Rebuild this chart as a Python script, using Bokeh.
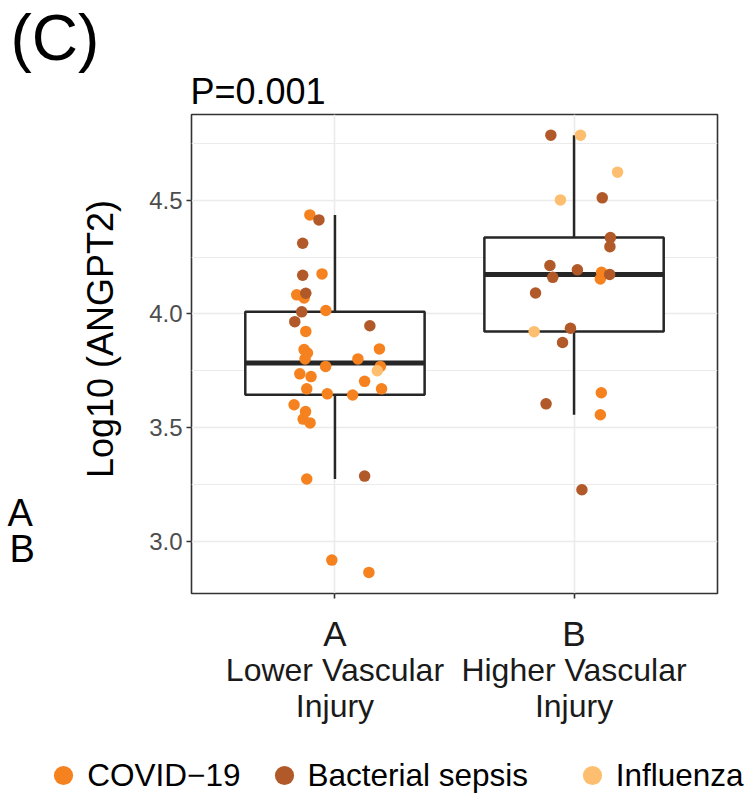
import numpy as np
from bokeh.plotting import figure
from bokeh.layouts import column, row
from bokeh.models import (Range1d, FixedTicker, PrintfTickFormatter, Label,
                          Legend, LegendItem, ColumnDataSource, LinearAxis)
from bokeh.embed import file_html
from bokeh.resources import INLINE

# ---------------- data ----------------
groups = ["A", "B"]
group_line1 = ["Lower Vascular", "Higher Vascular"]
group_line2 = ["Injury", "Injury"]

disease_names = ["COVID\u221219", "Bacterial sepsis", "Influenza"]
disease_colors = ["#F5821F", "#B15928", "#FDBF6F"]

# group A (Lower Vascular Injury): log10 ANGPT2, horizontal jitter, disease index
a_values = [4.436, 4.414, 4.311, 4.170, 4.176, 4.084, 4.091, 4.070, 4.009, 4.015,
            3.966, 3.948, 3.923, 3.843, 3.828, 3.802, 3.846, 3.802, 3.769, 3.769,
            3.750, 3.736, 3.724, 3.703, 3.670, 3.670, 3.648, 3.643, 3.600, 3.570,
            3.537, 3.520, 3.273, 3.286, 2.916, 2.862]
a_jitter = [-0.105, -0.067, -0.135, -0.135, -0.054, -0.160, -0.122, -0.129, -0.139, -0.038,
            -0.168, 0.146, -0.122, -0.129, -0.115, -0.125, 0.186, 0.096, -0.039, 0.190,
            0.177, -0.147, -0.100, 0.124, -0.118, 0.195, -0.032, 0.074, -0.171, -0.123,
            -0.133, -0.104, -0.118, 0.124, -0.013, 0.142]
a_disease = [0, 1, 1, 1, 0, 0, 1, 0, 1, 0,
             1, 1, 0, 0, 0, 0, 0, 0, 0, 0,
             2, 0, 0, 0, 0, 0, 0, 0, 0, 0,
             0, 0, 0, 1, 0, 0]

# group B (Higher Vascular Injury)
b_values = [4.787, 4.787, 4.624, 4.502, 4.511, 4.336, 4.296, 4.213, 4.194, 4.161,
            4.183, 4.154, 4.174, 4.092, 3.922, 3.937, 3.874, 3.653, 3.604, 3.556,
            3.226]
b_jitter = [-0.097, 0.027, 0.182, -0.057, 0.118, 0.152, 0.150, -0.101, 0.014, -0.089,
            0.115, 0.110, 0.149, -0.161, -0.167, -0.015, -0.048, 0.114, -0.117, 0.110,
            0.033]
b_disease = [1, 2, 2, 2, 1, 1, 1, 1, 1, 1,
             0, 0, 1, 1, 2, 1, 1, 0, 1, 0,
             1]

# box-plot statistics per group
box_q1 = [3.644, 3.923]
box_median = [3.784, 4.174]
box_q3 = [4.010, 4.336]
whisker_low = [3.273, 3.556]
whisker_high = [4.436, 4.787]

y_ticks = [3.0, 3.5, 4.0, 4.5]
y_minor = [2.75, 3.25, 3.75, 4.25, 4.75]
y_title = "Log10 (ANGPT2)"
p_title = "P=0.001"
panel_tag = "(C)"

FONT = "Liberation Sans"
INK = "#262626"
TOTAL_W = 745
LEFT_W = 131
TOP_H = 110
MID_H = 623
BOT_H = 63


def blank(width, height):
    f = figure(width=width, height=height, x_range=Range1d(0, 1), y_range=Range1d(0, 1),
               output_backend="svg", toolbar_location=None,
               min_border=0, min_border_left=0, min_border_right=0,
               min_border_top=0, min_border_bottom=0)
    f.axis.visible = False
    f.grid.visible = False
    f.outline_line_color = None
    f.background_fill_color = "white"
    f.border_fill_color = "white"
    return f


def lab(fig, **kw):
    base = dict(text_font=FONT, text_color="#000000", text_baseline="alphabetic",
                x_units="screen", y_units="screen")
    base.update(kw)
    fig.add_layout(Label(**base))


# ---------------- top strip: panel tag and p-value ----------------
top = blank(TOTAL_W, TOP_H)
lab(top, text=panel_tag, x=10, y=73, text_font_size="64px")
lab(top, text=p_title, x=190, y=19.5, text_font_size="36px")

# ---------------- left strip: y title and group key ----------------
left = blank(LEFT_W, MID_H)
lab(left, text=y_title, x=100, y=254.5, angle=np.pi / 2, text_align="center",
    text_font_size="36px")
lab(left, text=groups[0], x=7, y=81, text_font_size="38px")
lab(left, text=groups[1], x=9, y=45, text_font_size="38px")

# ---------------- main panel ----------------
p = figure(width=TOTAL_W - LEFT_W, height=MID_H,
           x_range=Range1d(0.4, 2.6), y_range=Range1d(2.769, 4.878),
           output_backend="svg", toolbar_location=None,
           min_border_left=60, min_border_right=28, min_border_top=4, min_border_bottom=140)
p.background_fill_color = "white"
p.border_fill_color = "white"
p.outline_line_color = "#333333"
p.outline_line_width = 1.6

p.xaxis.ticker = FixedTicker(ticks=[1, 2])
p.xaxis.major_label_overrides = {1: groups[0], 2: groups[1]}
p.xaxis.major_label_text_font = FONT
p.xaxis.major_label_text_font_size = "35px"
p.xaxis.major_label_text_color = "#1A1A1A"
p.xaxis.major_label_standoff = 15
p.yaxis.ticker = FixedTicker(ticks=y_ticks, minor_ticks=y_minor)
p.yaxis.formatter = PrintfTickFormatter(format="%.1f")
p.yaxis.major_label_text_font = FONT
p.yaxis.major_label_text_font_size = "24px"
p.yaxis.major_label_text_color = "#4D4D4D"
p.yaxis.major_label_standoff = 4
for ax in (p.xaxis, p.yaxis):
    ax.axis_line_color = None
    ax.major_tick_in = 0
    ax.major_tick_out = 5
    ax.major_tick_line_color = "#333333"
    ax.major_tick_line_width = 1.6
    ax.minor_tick_line_color = None

# second and third lines of the category labels
for lines, stand in ((group_line1, -4), (group_line2, -3)):
    ax2 = LinearAxis(ticker=FixedTicker(ticks=[1, 2]),
                     major_label_overrides={1: lines[0], 2: lines[1]},
                     major_label_text_font=FONT, major_label_text_font_size="32px",
                     major_label_text_color="#1A1A1A", major_label_standoff=stand,
                     axis_line_color=None, major_tick_line_color=None,
                     minor_tick_line_color=None, major_tick_in=0, major_tick_out=0)
    p.add_layout(ax2, "below")

p.xgrid.grid_line_color = "#EBEBEB"
p.xgrid.grid_line_width = 1.6
p.ygrid.grid_line_color = "#EBEBEB"
p.ygrid.grid_line_width = 1.6
p.ygrid.minor_grid_line_color = "#EBEBEB"
p.ygrid.minor_grid_line_width = 1.0

gx = [1, 2]
box_w = 0.75
box_src = ColumnDataSource(dict(x=gx, q1=box_q1, q3=box_q3, med=box_median,
                                lo=whisker_low, hi=whisker_high,
                                x0=[g - box_w / 2 for g in gx], x1=[g + box_w / 2 for g in gx]))
p.segment(x0="x", y0="hi", x1="x", y1="q3", source=box_src, line_color=INK, line_width=2.5)
p.segment(x0="x", y0="lo", x1="x", y1="q1", source=box_src, line_color=INK, line_width=2.5)
p.vbar(x="x", width=box_w, bottom="q1", top="q3", source=box_src,
       fill_color="white", line_color=INK, line_width=2.5)
p.segment(x0="x0", y0="med", x1="x1", y1="med", source=box_src, line_color=INK, line_width=5)

for k, col in enumerate(disease_colors):
    xs, ys = [], []
    for g, (vals, jit, dis) in enumerate([(a_values, a_jitter, a_disease),
                                           (b_values, b_jitter, b_disease)]):
        for v, j, d in zip(vals, jit, dis):
            if d == k:
                xs.append(g + 1 + j)
                ys.append(v)
    p.scatter(xs, ys, size=11.5, fill_color=col, line_color=None)

# ---------------- bottom strip: colour legend ----------------
bot = blank(TOTAL_W, BOT_H)
legend_x = [39.3, 259.5, 567.7]
for k, name in enumerate(disease_names):
    key = bot.scatter(x=np.array([np.nan]), y=np.array([np.nan]), size=12,
                      fill_color=disease_colors[k], line_color=None)
    leg = Legend(items=[LegendItem(label=name, renderers=[key])],
                 location=(legend_x[k], -4), orientation="horizontal",
                 glyph_width=48, glyph_height=50, label_height=50, label_standoff=0,
                 padding=0, margin=0, spacing=0, border_line_color=None,
                 background_fill_alpha=0, label_text_font=FONT,
                 label_text_font_size="31.5px", label_text_color="#000000")
    bot.add_layout(leg)

layout = column(top, row(left, p), bot)
open("out.html", "w").write(file_html(layout, INLINE))
